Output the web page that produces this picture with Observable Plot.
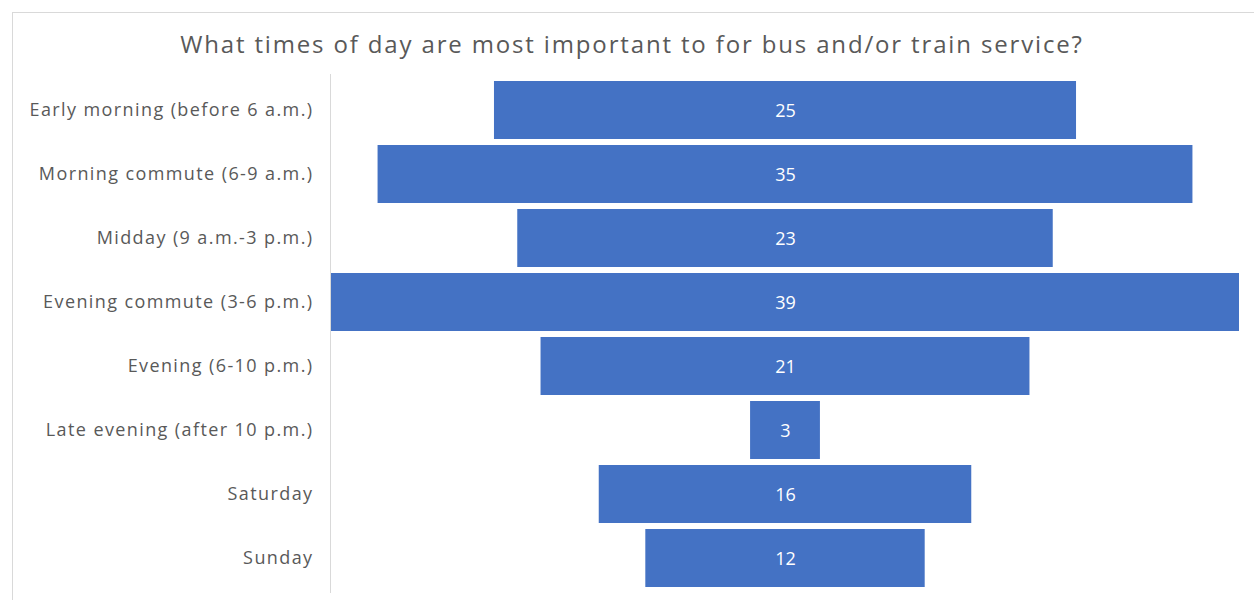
<!DOCTYPE html>
<html>
<head>
<meta charset="utf-8">
<script src="https://cdn.jsdelivr.net/npm/d3@7"></script>
<script src="https://cdn.jsdelivr.net/npm/@observablehq/plot@0.6"></script>
<style>
  html, body { margin: 0; padding: 0; background: #fff; }
  #wrap { position: relative; width: 1254px; height: 600px; overflow: hidden; font-family: "Open Sans", Lato, sans-serif; }
  #frame { position: absolute; left: 12px; top: 12px; width: 1300px; height: 700px; border-left: 1px solid #d9d9d9; border-top: 1px solid #d9d9d9; }
  #title { position: absolute; left: 0; top: 27px; width: 1264px; text-align: center; font-size: 24px; letter-spacing: 1.85px; color: #595959; }
  #chart { position: absolute; left: 0; top: 0; }
  #chart svg g[aria-label="y-axis tick label"] text { letter-spacing: 1.4px; }
</style>
</head>
<body>
<div id="wrap">
  <div id="frame"></div>
  <div id="title">What times of day are most important to for bus and/or train service?</div>
  <div id="chart"></div>
</div>
<script>
const categories = [
  "Early morning (before 6 a.m.)",
  "Morning commute (6-9 a.m.)",
  "Midday (9 a.m.-3 p.m.)",
  "Evening commute (3-6 p.m.)",
  "Evening (6-10 p.m.)",
  "Late evening (after 10 p.m.)",
  "Saturday",
  "Sunday"
];
const values = [25, 35, 23, 39, 21, 3, 16, 12];

const data = categories.map((c, i) => ({category: c, value: values[i]}));
const maxV = d3.max(values);

const chart = Plot.plot({
  width: 1254,
  height: 600,
  marginLeft: 331,
  marginRight: 15,
  marginTop: 74,
  marginBottom: 7,
  style: {fontFamily: "'Open Sans', Lato, sans-serif", fontSize: "18px", color: "#595959", background: "transparent"},
  x: {domain: [-maxV / 2, maxV / 2], axis: null},
  y: {domain: categories, padding: 0.095, label: null, tickSize: 0, tickPadding: 18},
  marks: [
    Plot.barX(data, {y: "category", x1: d => -d.value / 2, x2: d => d.value / 2, fill: "#4472c4"}),
    Plot.text(data, {y: "category", x: 0, dy: 1, text: d => String(d.value), fill: "white", fontSize: 18}),
    Plot.ruleX([-maxV / 2], {stroke: "#d9d9d9", strokeWidth: 1, dx: -1})
  ]
});
document.getElementById("chart").appendChild(chart);
</script>
</body>
</html>
